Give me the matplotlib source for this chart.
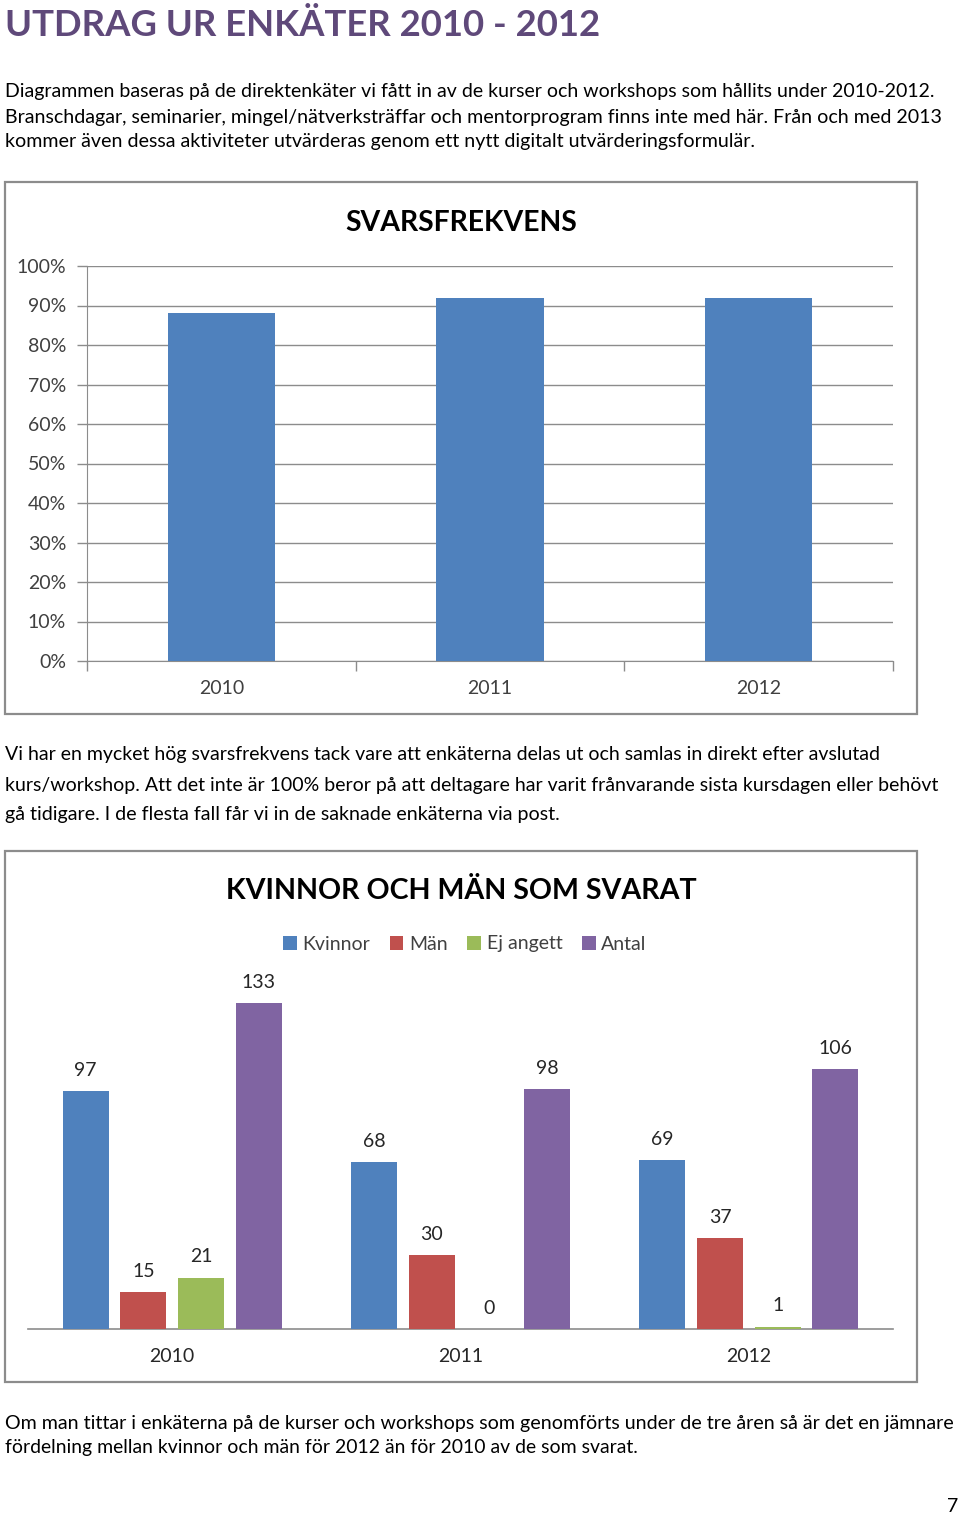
import matplotlib
matplotlib.use("Agg")
import matplotlib.pyplot as plt
from matplotlib.patches import Rectangle, Patch
import numpy as np

# -----------------------------
# Data
# -----------------------------
years = ["2010", "2011", "2012"]
svarsfrekvens = [0.88, 0.92, 0.92]
ytick_vals = [i / 10 for i in range(11)]
ytick_labels = [f"{i * 10}%" for i in range(11)]

series_names = ["Kvinnor", "Män", "Ej angett", "Antal"]
kvinnor = [97, 68, 69]
man = [15, 30, 37]
ej_angett = [21, 0, 1]
antal = [133, 98, 106]
series_colors = ["#4F81BD", "#C0504D", "#9BBB59", "#8064A2"]

title = "UTDRAG UR ENKÄTER 2010 - 2012"
para1 = [
    "Diagrammen baseras på de direktenkäter vi fått in av de kurser och workshops som hållits under 2010-2012.",
    "Branschdagar, seminarier, mingel/nätverksträffar och mentorprogram finns inte med här. Från och med 2013",
    "kommer även dessa aktiviteter utvärderas genom ett nytt digitalt utvärderingsformulär.",
]
para2 = [
    "Vi har en mycket hög svarsfrekvens tack vare att enkäterna delas ut och samlas in direkt efter avslutad",
    "kurs/workshop. Att det inte är 100% beror på att deltagare har varit frånvarande sista kursdagen eller behövt",
    "gå tidigare. I de flesta fall får vi in de saknade enkäterna via post.",
]
para3 = [
    "Om man tittar i enkäterna på de kurser och workshops som genomförts under de tre åren så är det en jämnare",
    "fördelning mellan kvinnor och män för 2012 än för 2010 av de som svarat.",
]

# -----------------------------
# Page setup (pixel helpers)
# -----------------------------
W, H = 960, 1515
plt.rcParams['font.family'] = ['Lato', 'DejaVu Sans']
fig = plt.figure(figsize=(W / 100, H / 100), dpi=100)
renderer = fig.canvas.get_renderer()


def fx(x):
    return x / W


def fy(y):
    return 1 - y / H


def ptext(x, y, s, size, width=None, **kw):
    """Text at pixel position; if width given, shrink/grow size to fit it."""
    t = fig.text(fx(x), fy(y), s, fontsize=size, **kw)
    if width:
        w = t.get_window_extent(renderer).width
        t.set_fontsize(size * width / w)
    return t


def box(x0, y0, x1, y1):
    fig.patches.append(Rectangle((fx(x0), fy(y1)), fx(x1) - fx(x0), fy(y0) - fy(y1),
                                 transform=fig.transFigure, fill=False,
                                 edgecolor="#8C8C8C", lw=1.6))


def axes_px(left, top, right, bottom):
    return fig.add_axes([fx(left), fy(bottom), fx(right) - fx(left), fy(top) - fy(bottom)])


# -----------------------------
# Headings and body text
# -----------------------------
ptext(5, 25, title, 30, width=595, color="#5F497A", weight="bold", va="center")

line_w1 = [925, 934, 748]
for i, (s, w) in enumerate(zip(para1, line_w1)):
    ptext(5, 92 + 25 * i, s, 13, width=w, va="center")

line_w2 = [874, 930, 552]
for i, (s, w) in enumerate(zip(para2, line_w2)):
    ptext(5, 755 + 30 * i, s, 13, width=w, va="center")

line_w3 = [947, 630]
for i, (s, w) in enumerate(zip(para3, line_w3)):
    ptext(5, 1423 + 25 * i, s, 13, width=w, va="center")

ptext(958, 1506, "7", 14, ha="right", va="center")

# -----------------------------
# Chart 1: SVARSFREKVENS
# -----------------------------
box(5, 182, 917, 714)
ptext(461, 223, "SVARSFREKVENS", 19, width=232, weight="bold", ha="center", va="center")

ax1 = axes_px(87, 266, 893, 661)
x1 = np.arange(len(years)) + 0.5
ax1.bar(x1, svarsfrekvens, width=0.4, color="#4F81BD", zorder=3)
ax1.set_xlim(0, 3)
ax1.set_ylim(0, 1)
ax1.set_yticks(ytick_vals)
ax1.set_yticklabels(ytick_labels)
ax1.set_xticks(x1)
ax1.set_xticklabels(years)
ax1.set_xticks([0, 1, 2, 3], minor=True)
ax1.tick_params(axis="x", which="major", length=0, pad=14, labelsize=14, labelcolor="#404040")
ax1.tick_params(axis="x", which="minor", length=7, color="#8C8C8C", width=1)
ax1.tick_params(axis="y", length=7, color="#8C8C8C", width=1, pad=8, labelsize=14, labelcolor="#404040")
ax1.grid(axis="y", color="#8C8C8C", lw=1)
ax1.set_axisbelow(True)
for side in ["top", "right"]:
    ax1.spines[side].set_visible(False)
for side in ["left", "bottom"]:
    ax1.spines[side].set_color("#8C8C8C")

# -----------------------------
# Chart 2: KVINNOR OCH MÄN SOM SVARAT
# -----------------------------
box(5, 851, 917, 1382)
ptext(461, 891, "KVINNOR OCH MÄN SOM SVARAT", 21, width=472, weight="bold", ha="center", va="center")

ax2 = axes_px(28, 970, 893, 1329)
x2 = np.arange(len(years)) + 0.5
step, bw = 0.2, 0.16
handles = []
for k, (vals, col, name) in enumerate(zip([kvinnor, man, ej_angett, antal], series_colors, series_names)):
    xs = x2 + (k - 1.5) * step
    ax2.bar(xs, vals, width=bw, color=col, zorder=3)
    for xv, v in zip(xs, vals):
        ax2.annotate(str(v), (xv, v), xytext=(0, 15), textcoords="offset points",
                     ha="center", va="center", fontsize=14, color="#262626")
    handles.append(Patch(facecolor=col, label=name))
ax2.set_xlim(0, 3)
ax2.set_ylim(0, 146.5)
ax2.set_yticks([])
ax2.set_xticks(x2)
ax2.set_xticklabels(years)
ax2.tick_params(axis="x", length=0, pad=14, labelsize=14, labelcolor="#262626")
for side in ["top", "right", "left"]:
    ax2.spines[side].set_visible(False)
ax2.spines["bottom"].set_color("#8C8C8C")
ax2.spines["bottom"].set_linewidth(1.2)

fig.legend(handles=handles, loc="center", bbox_to_anchor=(fx(465), fy(944)), ncol=4,
           frameon=False, handlelength=0.7, handleheight=0.7, handletextpad=0.3,
           columnspacing=1.0, fontsize=14, labelcolor="#404040")

fig.savefig("out.png", dpi=100)
